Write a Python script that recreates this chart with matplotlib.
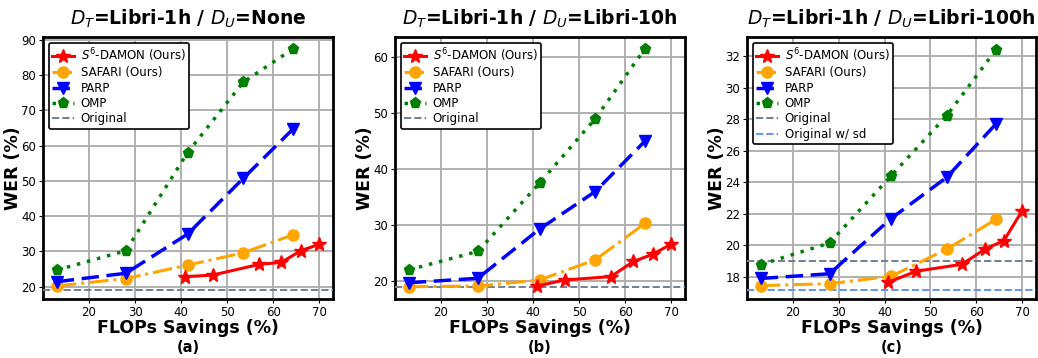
import matplotlib
matplotlib.use("Agg")
import matplotlib.pyplot as plt

# ---- data ----
x_s6 = [40.8, 46.9, 56.9, 61.8, 66.0, 70.0]
x_base = [13.0, 28.0, 41.4, 53.5, 64.3]

# panel (a) D_U = None
a_s6 = [22.8, 23.3, 26.3, 26.9, 30.2, 32.0]
a_safari = [20.2, 22.3, 26.1, 29.6, 34.7]
a_parp = [21.4, 23.8, 34.9, 50.7, 64.7]
a_omp = [24.7, 30.2, 58.0, 78.0, 87.4]
a_orig = 19.0

# panel (b) D_U = Libri-10h
b_s6 = [19.1, 20.2, 20.8, 23.5, 24.8, 26.6]
b_safari = [19.0, 19.1, 20.2, 23.8, 30.3]
b_parp = [19.7, 20.5, 29.3, 36.0, 45.0]
b_omp = [22.0, 25.3, 37.5, 49.0, 61.5]
b_orig = 19.0

# panel (c) D_U = Libri-100h
c_s6 = [17.66, 18.36, 18.8, 19.75, 20.3, 22.2]
c_safari = [17.45, 17.57, 18.04, 19.75, 21.65]
c_parp = [17.9, 18.2, 21.7, 24.3, 27.7]
c_omp = [18.78, 20.15, 24.4, 28.2, 32.4]
c_orig = 19.0
c_orig_sd = 17.2

titles = [r"$D_T$=Libri-1h / $D_U$=None",
          r"$D_T$=Libri-1h / $D_U$=Libri-10h",
          r"$D_T$=Libri-1h / $D_U$=Libri-100h"]
sublabels = ["(a)", "(b)", "(c)"]

fig = plt.figure(figsize=(10.38, 3.58), dpi=100)
W, H = 1038, 358
axes_px = [(43, 333), (395, 685), (747, 1036)]
top_px, bot_px = 37, 299

panels = [
    (a_s6, a_safari, a_parp, a_omp, a_orig, None, (16.5, 90.8), [20, 30, 40, 50, 60, 70, 80, 90]),
    (b_s6, b_safari, b_parp, b_omp, b_orig, None, (16.8, 63.6), [20, 30, 40, 50, 60]),
    (c_s6, c_safari, c_parp, c_omp, c_orig, c_orig_sd, (16.6, 33.2), [18, 20, 22, 24, 26, 28, 30, 32]),
]

for i, (s6, saf, parp, omp, orig, sd, ylim, yt) in enumerate(panels):
    l, r = axes_px[i]
    aw, ah = r - l, bot_px - top_px
    ax = fig.add_axes([l / W, 1 - bot_px / H, aw / W, ah / H])
    ax.grid(True, color="#b0b0b0", linewidth=1.4, zorder=0)
    ax.set_axisbelow(True)
    ax.plot(x_s6, s6, color="red", marker="*", markersize=10.5, linewidth=2.2,
            linestyle="-", label=r"$S^6$-DAMON (Ours)", zorder=5)
    ax.plot(x_base, saf, color="orange", marker="o", markersize=8, linewidth=2.2,
            linestyle="-.", label="SAFARI (Ours)", zorder=4)
    ax.plot(x_base, parp, color="blue", marker="v", markersize=8, linewidth=2.5,
            linestyle=(0, (5, 2.2)), label="PARP", zorder=4)
    ax.plot(x_base, omp, color="green", marker="p", markersize=8, linewidth=2.5,
            linestyle=(0, (1, 2.0)), label="OMP", zorder=4)
    ax.axhline(orig, color="slategray", linestyle="--", linewidth=1.4, label="Original", zorder=3)
    if sd is not None:
        ax.axhline(sd, color="cornflowerblue", linestyle="--", linewidth=1.4,
                   label="Original w/ sd", zorder=3)
    ax.set_xlim(10, 73)
    ax.set_ylim(*ylim)
    ax.set_xticks([20, 30, 40, 50, 60, 70])
    ax.set_yticks(yt)
    ax.tick_params(labelsize=8.5, length=3, pad=2)
    for s in ax.spines.values():
        s.set_linewidth(2)
        s.set_color("black")
    ax.set_xlabel("FLOPs Savings (%)", fontsize=12.5, fontweight="bold", va="center")
    ax.xaxis.set_label_coords(0.5, -29 / ah)
    ax.set_ylabel("WER (%)", fontsize=12.5, fontweight="bold", va="center")
    ax.yaxis.set_label_coords(-30 / aw, 0.5)
    ax.set_title(titles[i], fontsize=13.5, fontweight="bold", pad=9)
    leg = ax.legend(loc="upper left", fontsize=8.5, frameon=True, fancybox=True,
                    edgecolor="black", framealpha=1, handlelength=1.8, borderpad=0.3,
                    labelspacing=0.2, handletextpad=0.6, borderaxespad=0.5)
    leg.get_frame().set_linewidth(1.2)
    fig.text((l + r) / 2 / W, 1 - 348 / H, sublabels[i], ha="center", va="center",
             fontsize=10.5, fontweight="bold")

fig.savefig("out.png", dpi=100)
